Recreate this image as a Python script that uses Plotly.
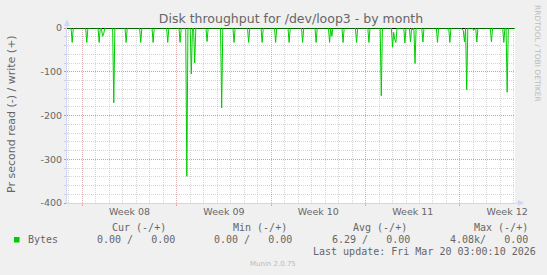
import pandas as pd
import plotly.graph_objects as go

# ---------------- data ----------------
week_labels = ["Week 08", "Week 09", "Week 10", "Week 11", "Week 12"]
week_starts = ["2026-02-16", "2026-02-23", "2026-03-02", "2026-03-09", "2026-03-16"]
week_centers = ["2026-02-19 12:00", "2026-02-26 12:00", "2026-03-05 12:00",
                "2026-03-12 12:00", "2026-03-19 12:00"]

y_ticks = [0, -100, -200, -300, -400]

spike_times = [
    "2026-02-15 06:00", "2026-02-16 08:00", "2026-02-17 06:00", "2026-02-17 12:00",
    "2026-02-17 14:00", "2026-02-18 08:00", "2026-02-19 06:00", "2026-02-20 08:00",
    "2026-02-21 06:00", "2026-02-22 08:00", "2026-02-23 06:00", "2026-02-23 18:00",
    "2026-02-24 02:00", "2026-02-24 08:00", "2026-02-25 06:00", "2026-02-26 08:00",
    "2026-02-27 06:00", "2026-02-28 08:00", "2026-03-01 08:00", "2026-03-02 08:00",
    "2026-03-03 08:00", "2026-03-04 08:00", "2026-03-05 08:00", "2026-03-06 08:00",
    "2026-03-06 12:00", "2026-03-07 08:00", "2026-03-08 08:00", "2026-03-09 06:00",
    "2026-03-10 04:00", "2026-03-11 00:00", "2026-03-11 02:00", "2026-03-11 04:00",
    "2026-03-11 06:00", "2026-03-11 10:00", "2026-03-11 22:00", "2026-03-12 08:00",
    "2026-03-12 12:00", "2026-03-12 16:00", "2026-03-13 06:00", "2026-03-14 08:00",
    "2026-03-15 02:00", "2026-03-15 06:00", "2026-03-16 04:00", "2026-03-16 06:00",
    "2026-03-16 08:00", "2026-03-16 12:00", "2026-03-17 00:00", "2026-03-17 02:00",
    "2026-03-17 06:00", "2026-03-18 08:00", "2026-03-19 06:00", "2026-03-19 12:00",
    "2026-03-20 02:00",
]
spike_values = [
    -33, -33, -33, -19,
    -14, -171, -33, -33,
    -33, -33, -33, -339,
    -105, -80, -31, -183,
    -33, -33, -33, -33,
    -33, -33, -33, -33,
    -19, -33, -33, -33,
    -155, -44, -10, -27,
    -33, -3, -34, -32,
    -4, -81, -32, -33,
    -3, -33, -4, -6,
    -32, -141, -5, -3,
    -32, -32, -33, -147,
    -2,
]

series_start = "2026-02-14 20:00"
series_end = "2026-03-20 02:00"
x_range = ["2026-02-14 20:47", "2026-03-20 01:55"]

legend_header = ["Cur (-/+)", "Min (-/+)", "Avg (-/+)", "Max (-/+)"]
legend_values = ["0.00 /   0.00", "0.00 /   0.00", "6.29 /   0.00", "4.08k/   0.00"]
series_name = "Bytes"
last_update = "Last update: Fri Mar 20 03:00:10 2026"

# ---------------- build series (2-hour samples, zero between spikes) ----
times = pd.date_range(series_start, series_end, freq="2h")
vals = pd.Series(0.0, index=times)
for t, v in zip(spike_times, spike_values):
    vals[pd.Timestamp(t)] = v

# ---------------- layout geometry ----------------
W, H = 547, 275
L, R, T, B = 67, 32, 28, 72
PW, PH = W - L - R, H - T - B

def px(x):
    return (x - L) / PW

def py(y):
    return (H - B - y) / PH

FONT = "DejaVu Sans"
MONO = "DejaVu Sans Mono"
TXT = "#666666"
AXIS = "#CFD6F8"
GRID = "rgba(150,150,150,0.38)"
MGRID = "rgba(215,70,70,0.42)"
MGRID_X = "rgba(235,100,100,0.32)"
GREEN = "#00CC00"

fig = go.Figure()
fig.add_trace(go.Scatter(
    x=vals.index, y=vals.values, mode="lines", name=series_name,
    line=dict(color=GREEN, width=1), showlegend=False, hoverinfo="skip",
))
# helper trace so the overlaying week-boundary axis is rendered
fig.add_trace(go.Scatter(
    x=vals.index[:1], y=[None], xaxis="x2", mode="lines",
    showlegend=False, hoverinfo="skip",
))

fig.update_layout(
    width=W, height=H,
    margin=dict(l=L, r=R, t=T, b=B),
    paper_bgcolor="#F0F0F0", plot_bgcolor="#FFFFFF",
    font=dict(family=FONT, color=TXT, size=10),
    title=dict(text="Disk throughput for /dev/loop3 - by month",
               x=0.5, xref="paper", xanchor="center",
               y=1 - 19 / H, yref="container", yanchor="middle",
               font=dict(size=12.5, color=TXT, family=FONT)),
    xaxis=dict(
        type="date", range=x_range,
        tickmode="array", tickvals=week_centers, ticktext=week_labels,
        ticks="", showgrid=False, zeroline=False,
        tickfont=dict(size=9.5, color=TXT),
        showline=True, linecolor=AXIS, linewidth=1,
        minor=dict(tick0="2026-02-16", dtick=86400000, showgrid=True,
                   gridcolor=GRID, griddash="1px,1px", gridwidth=1,
                   ticks=""),
    ),
    xaxis2=dict(
        type="date", overlaying="x", matches="x", range=x_range,
        tickmode="array", tickvals=week_starts, ticktext=[""] * len(week_starts),
        showgrid=True, gridcolor=MGRID_X, griddash="1px,1px", gridwidth=1,
        ticks="outside", ticklen=2, tickcolor=MGRID,
        showline=False, zeroline=False, side="bottom", anchor="y",
    ),
    yaxis=dict(
        range=[-400, 0], tickmode="array", tickvals=y_ticks,
        ticktext=[str(v) for v in y_ticks],
        showgrid=True, gridcolor=MGRID, griddash="1px,1px", gridwidth=1,
        zeroline=True, zerolinecolor="#000000", zerolinewidth=1,
        ticks="outside", ticklen=2, tickcolor=MGRID,
        tickfont=dict(size=9.5, color=TXT),
        showline=True, linecolor=AXIS, linewidth=1,
        minor=dict(dtick=20, showgrid=True, gridcolor=GRID,
                   griddash="1px,1px", gridwidth=1, ticks="outside",
                   ticklen=2, tickcolor=GRID),
    ),
)

# axis arrows (decoration)
fig.add_shape(type="line", xref="paper", yref="paper",
              x0=0, x1=0, y0=1, y1=py(22), line=dict(color=AXIS, width=1))
fig.add_shape(type="path", xref="paper", yref="paper",
              path=f"M {px(64)},{py(26)} L {px(70)},{py(26)} L {px(67)},{py(19)} Z",
              fillcolor=AXIS, line=dict(color=AXIS, width=0))
fig.add_shape(type="line", xref="paper", yref="paper",
              x0=1, x1=px(519), y0=0, y1=0, line=dict(color=AXIS, width=1))
fig.add_shape(type="path", xref="paper", yref="paper",
              path=f"M {px(518)},{py(200)} L {px(518)},{py(206)} L {px(524)},{py(203)} Z",
              fillcolor=AXIS, line=dict(color=AXIS, width=0))

ann = []
# y axis title
ann.append(dict(text="Pr second read (-) / write (+)", x=px(11), y=py(114),
                xref="paper", yref="paper", textangle=-90, showarrow=False,
                font=dict(size=11, color=TXT, family=FONT),
                xanchor="center", yanchor="middle"))
# rrdtool watermark
ann.append(dict(text="RRDTOOL / TOBI OETIKER", x=px(538), y=py(53),
                xref="paper", yref="paper", textangle=90, showarrow=False,
                font=dict(size=7.5, color="#BBBBBB", family=FONT),
                xanchor="center", yanchor="middle"))

def mono(s):
    return s.replace(" ", "\u00a0")

head_x = [111, 231.7, 352.3, 472.7]
val_x = [95.7, 213.3, 331, 449]
for hx, h in zip(head_x, legend_header):
    ann.append(dict(text=mono(h), x=px(hx), y=py(227.7), xref="paper", yref="paper",
                    showarrow=False, xanchor="left", yanchor="middle",
                    font=dict(size=10, color=TXT, family=MONO)))
for vx, v in zip(val_x, legend_values):
    ann.append(dict(text=mono(v), x=px(vx), y=py(239.7), xref="paper", yref="paper",
                    showarrow=False, xanchor="left", yanchor="middle",
                    font=dict(size=10, color=TXT, family=MONO)))
ann.append(dict(text=mono(series_name), x=px(26.7), y=py(239.7), xref="paper", yref="paper",
                showarrow=False, xanchor="left", yanchor="middle",
                font=dict(size=10, color=TXT, family=MONO)))
ann.append(dict(text=mono(last_update), x=px(311.7), y=py(251), xref="paper", yref="paper",
                showarrow=False, xanchor="left", yanchor="middle",
                font=dict(size=10, color=TXT, family=MONO)))
ann.append(dict(text="Munin 2.0.75", x=px(273), y=py(264), xref="paper", yref="paper",
                showarrow=False, xanchor="center", yanchor="middle",
                font=dict(size=7, color="#BBBBBB", family=FONT)))
for a in ann:
    a["borderpad"] = 0
fig.update_layout(annotations=ann)

# legend colour box
fig.add_shape(type="rect", xref="paper", yref="paper",
              x0=px(14), x1=px(19.5), y0=py(242.5), y1=py(237),
              fillcolor=GREEN, line=dict(width=0))

fig.write_html("out.html")
